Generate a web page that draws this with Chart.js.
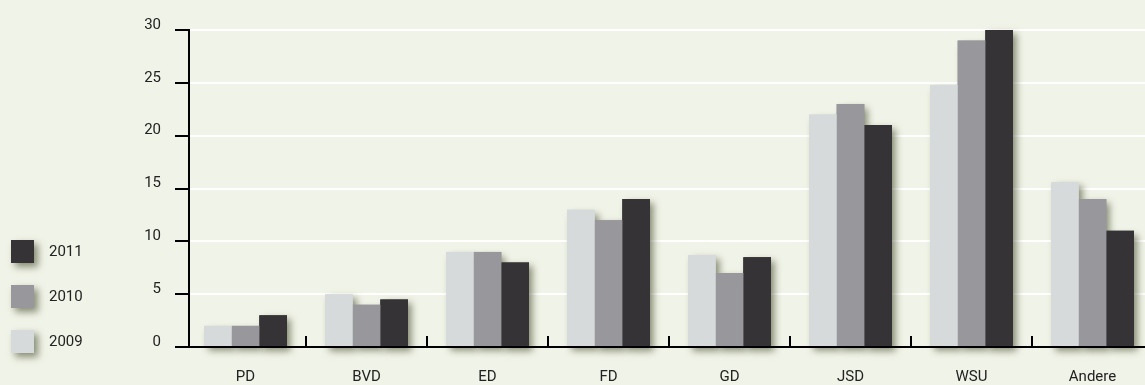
<!DOCTYPE html>
<html>
<head>
<meta charset="utf-8">
<script src="https://cdn.jsdelivr.net/npm/chart.js@4.4.1/dist/chart.umd.min.js"></script>
<style>
  html, body { margin: 0; padding: 0; overflow: hidden; background: #f0f3e7; }
  #wrap { position: relative; width: 1153px; height: 385px; }
</style>
</head>
<body>
<div id="wrap"><canvas id="c"></canvas></div>
<script>
// Categories and yearly values
const categories = ['PD', 'BVD', 'ED', 'FD', 'GD', 'JSD', 'WSU', 'Andere'];
const years = ['2009', '2010', '2011'];
const values2009 = [2, 5, 9, 13, 8.7, 22, 24.8, 15.6];
const values2010 = [2, 4, 9, 12, 7, 23, 29, 14];
const values2011 = [3, 4.5, 8, 14, 8.5, 21, 30, 11];
const yTickValues = [0, 5, 10, 15, 20, 25, 30];

const seriesColors = ['#d6dadb', '#98979c', '#353336'];
const textColor = '#222222';
const fontFamily = 'Roboto, "Liberation Sans", sans-serif';
const shadow = { color: 'rgba(66, 74, 44, 0.6)', blur: 7, dx: 4, dy: 4 };
const AXIS_INSET = 4;

function applyShadow(ctx) {
  ctx.shadowColor = shadow.color;
  ctx.shadowBlur = shadow.blur;
  ctx.shadowOffsetX = shadow.dx;
  ctx.shadowOffsetY = shadow.dy;
}

// Gridlines, bar shadows, axis lines, tick marks and the legend
const framePlugin = {
  id: 'frame',
  beforeDatasetsDraw(chart) {
    const { ctx, chartArea: a, scales: { y } } = chart;
    const x0 = a.left + AXIS_INSET;
    ctx.save();
    ctx.strokeStyle = '#ffffff';
    ctx.lineWidth = 2;
    yTickValues.forEach(v => {
      if (v === 0) return;
      const py = Math.round(y.getPixelForValue(v));
      ctx.beginPath();
      ctx.moveTo(x0, py);
      ctx.lineTo(a.right, py);
      ctx.stroke();
    });
    // soft drop shadows behind every bar
    applyShadow(ctx);
    chart.data.datasets.forEach((ds, i) => {
      const meta = chart.getDatasetMeta(i);
      ctx.fillStyle = ds.backgroundColor;
      meta.data.forEach(bar => {
        const p = bar.getProps(['x', 'y', 'base', 'width'], true);
        ctx.fillRect(p.x - p.width / 2, p.y, p.width, p.base - p.y);
      });
    });
    ctx.restore();
  },
  afterDatasetsDraw(chart) {
    const { ctx, chartArea: a, scales: { x, y } } = chart;
    const x0 = a.left + AXIS_INSET;
    const yBase = Math.round(y.getPixelForValue(0));
    ctx.save();
    ctx.strokeStyle = '#000000';
    ctx.lineWidth = 2;
    // vertical axis
    ctx.beginPath();
    ctx.moveTo(x0, y.getPixelForValue(yTickValues[yTickValues.length - 1]) - 1);
    ctx.lineTo(x0, yBase);
    ctx.stroke();
    // value ticks
    yTickValues.forEach(v => {
      const py = Math.round(y.getPixelForValue(v));
      ctx.beginPath();
      ctx.moveTo(x0 - 14, py);
      ctx.lineTo(x0, py);
      ctx.stroke();
    });
    // horizontal axis
    ctx.beginPath();
    ctx.moveTo(x0 - 14, yBase);
    ctx.lineTo(a.right, yBase);
    ctx.stroke();
    // category separators pointing up
    for (let i = 1; i < categories.length; i++) {
      const px = Math.round((x.getPixelForValue(i - 1) + x.getPixelForValue(i)) / 2);
      ctx.beginPath();
      ctx.moveTo(px, yBase);
      ctx.lineTo(px, yBase - 11);
      ctx.stroke();
    }
    ctx.restore();
  },
  afterDraw(chart) {
    const { ctx } = chart;
    const size = 23, left = 11, top = 240, step = 45;
    ctx.save();
    ctx.font = '15px ' + fontFamily;
    ctx.textBaseline = 'middle';
    ctx.textAlign = 'left';
    const order = chart.data.datasets.map((d, i) => i).reverse();
    order.forEach((dsIndex, k) => {
      const ds = chart.data.datasets[dsIndex];
      const ty = top + k * step;
      ctx.save();
      applyShadow(ctx);
      ctx.fillStyle = ds.backgroundColor;
      ctx.fillRect(left, ty, size, size);
      ctx.restore();
      ctx.fillStyle = textColor;
      ctx.fillText(ds.label, left + size + 15, ty + size / 2 + 1);
    });
    ctx.restore();
  }
};

const seriesValues = [values2009, values2010, values2011];

new Chart(document.getElementById('c'), {
  type: 'bar',
  data: {
    labels: categories,
    datasets: years.map((yr, i) => ({
      label: yr,
      data: seriesValues[i],
      backgroundColor: seriesColors[i],
      borderWidth: 0,
      barPercentage: 1.0,
      categoryPercentage: 0.686
    }))
  },
  options: {
    responsive: true,
    maintainAspectRatio: false,
    animation: false,
    devicePixelRatio: 1,
    layout: { padding: { top: 30, right: 0, bottom: 0, left: 0 } },
    plugins: { legend: { display: false }, tooltip: { enabled: false } },
    scales: {
      x: {
        grid: { display: false },
        border: { display: false },
        ticks: {
          color: textColor,
          font: { family: fontFamily, size: 15 },
          padding: 13,
          maxRotation: 0,
          autoSkip: false
        },
        afterFit(scale) { scale.height = 38; }
      },
      y: {
        min: 0,
        max: 30,
        grid: { display: false },
        border: { display: false },
        ticks: {
          stepSize: 5,
          color: textColor,
          font: { family: fontFamily, size: 15 },
          padding: 16,
          labelOffset: -5
        },
        afterFit(scale) { scale.width = 185; }
      }
    }
  },
  plugins: [framePlugin]
});
</script>
</body>
</html>
